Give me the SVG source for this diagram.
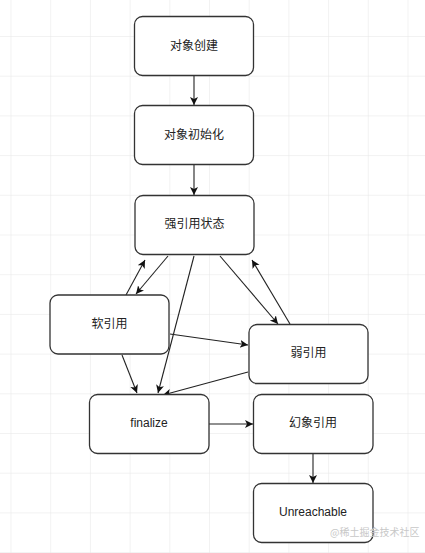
<svg xmlns="http://www.w3.org/2000/svg" width="425" height="553" viewBox="0 0 425 553">
<defs>
<pattern id="grid" x="10.5" y="36" width="39.7" height="39.7" patternUnits="userSpaceOnUse">
<path d="M0 0 H39.7 M0 0 V39.7" fill="none" stroke="#e6e6e6" stroke-width="1"/>
</pattern>
<marker id="arr" markerWidth="10" markerHeight="10" refX="8" refY="4" orient="auto" markerUnits="userSpaceOnUse">
<path d="M0,0 L8,4 L0,8 L2,4 Z" fill="#111"/>
</marker>
<style>
.box{fill:#fff;stroke:#333;stroke-width:1.3}
.lbl{font-family:"Liberation Sans","Noto Sans CJK SC",sans-serif;font-size:12px;fill:#222;text-anchor:middle;dominant-baseline:central}
.c{stroke:#222;stroke-width:1.1;fill:none;marker-end:url(#arr)}
.wm{font-family:"Noto Sans CJK SC",sans-serif;font-size:10px;fill:#c8c8c8}
</style>
</defs>
<rect width="425" height="553" fill="#fff"/>
<rect width="425" height="553" fill="url(#grid)"/>
<g id="connectors">
<line class="c" x1="194" y1="76" x2="194" y2="105"/>
<line class="c" x1="194" y1="165" x2="194" y2="195"/>
<line class="c" x1="168" y1="256" x2="136" y2="294"/>
<line class="c" x1="126" y1="295" x2="145" y2="260"/>
<line class="c" x1="194" y1="256" x2="158" y2="393"/>
<line class="c" x1="220" y1="256" x2="278" y2="324"/>
<line class="c" x1="290" y1="324" x2="252" y2="260"/>
<line class="c" x1="170" y1="334" x2="248" y2="345"/>
<line class="c" x1="122" y1="355" x2="137" y2="393"/>
<line class="c" x1="248" y1="372" x2="163" y2="395"/>
<line class="c" x1="209" y1="424" x2="253" y2="424"/>
<line class="c" x1="313" y1="454" x2="313" y2="483"/>
</g>
<g id="n1"><rect class="box" x="134.5" y="16.5" width="119" height="59" rx="8"/><text class="lbl" x="194" y="46">对象创建</text></g>
<g id="n2"><rect class="box" x="134.5" y="105.5" width="119" height="59" rx="8"/><text class="lbl" x="194" y="135">对象初始化</text></g>
<g id="n3"><rect class="box" x="135" y="195.5" width="119" height="59" rx="8"/><text class="lbl" x="194.5" y="224">强引用状态</text></g>
<g id="n4"><rect class="box" x="50" y="295" width="119" height="59" rx="8"/><text class="lbl" x="109.5" y="324">软引用</text></g>
<g id="n5"><rect class="box" x="249" y="324.5" width="119" height="59" rx="8"/><text class="lbl" x="308.5" y="353">弱引用</text></g>
<g id="n6"><rect class="box" x="89.5" y="394.5" width="119.5" height="59" rx="8"/><text class="lbl" x="149" y="423">finalize</text></g>
<g id="n7"><rect class="box" x="253.5" y="394.5" width="119.5" height="59" rx="8"/><text class="lbl" x="313" y="423">幻象引用</text></g>
<g id="n8"><rect class="box" x="253.5" y="483.5" width="119.5" height="59" rx="8"/><text class="lbl" x="313" y="512">Unreachable</text></g>
<text class="wm" x="330" y="536">@稀土掘金技术社区</text>
</svg>
